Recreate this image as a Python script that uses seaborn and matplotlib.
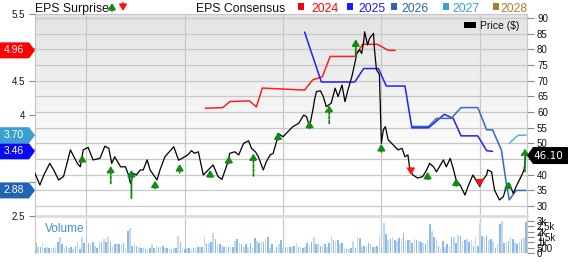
import numpy as np
import pandas as pd
import matplotlib
matplotlib.use("Agg")
import matplotlib.pyplot as plt
import seaborn as sns
from matplotlib.patches import Polygon, Rectangle, FancyArrowPatch
from matplotlib.transforms import IdentityTransform
from matplotlib.ticker import FuncFormatter

sns.set_theme(style="white")
plt.rcParams['font.family'] = ['Liberation Sans', 'DejaVu Sans']

# ---------------- data ----------------
price_t = [2021.48, 2021.53, 2021.57, 2021.63, 2021.67, 2021.72, 2021.77, 2021.84, 2021.91, 2021.94,
           2021.97, 2022.02, 2022.07, 2022.14, 2022.19, 2022.23, 2022.26, 2022.29, 2022.35, 2022.40,
           2022.43, 2022.45, 2022.48, 2022.51, 2022.55, 2022.58, 2022.62, 2022.65, 2022.72, 2022.75,
           2022.80, 2022.89, 2022.94, 2022.99, 2023.04, 2023.07, 2023.10, 2023.14, 2023.19, 2023.24,
           2023.29, 2023.34, 2023.38, 2023.43, 2023.46, 2023.51, 2023.55, 2023.60, 2023.65, 2023.68,
           2023.72, 2023.75, 2023.80, 2023.83, 2023.87, 2023.90, 2023.94, 2023.95, 2024.00, 2024.05,
           2024.10, 2024.16, 2024.21, 2024.24, 2024.27, 2024.31, 2024.32, 2024.34, 2024.38, 2024.41,
           2024.44, 2024.49, 2024.53, 2024.56, 2024.60, 2024.63, 2024.66, 2024.70, 2024.73, 2024.75,
           2024.78, 2024.80, 2024.82, 2024.83, 2024.86, 2024.88, 2024.92, 2024.93, 2024.95, 2024.98,
           2025.00, 2025.02, 2025.04, 2025.07, 2025.12, 2025.17, 2025.21, 2025.24, 2025.27, 2025.29,
           2025.32, 2025.37, 2025.42, 2025.46, 2025.49, 2025.53, 2025.56, 2025.59, 2025.63, 2025.66,
           2025.70, 2025.73, 2025.76, 2025.80, 2025.85, 2025.88, 2025.93, 2025.97, 2026.00, 2026.03,
           2026.07, 2026.08, 2026.12, 2026.15, 2026.20, 2026.24, 2026.27, 2026.30, 2026.34, 2026.37,
           2026.42, 2026.45, 2026.47, 2026.48]
price = [40.4, 36.7, 39.9, 43.6, 41.5, 38.3, 39.4, 47.9, 43.6, 42.5,
         47.9, 48.7, 44.7, 45.2, 49.1, 48.4, 43.6, 45.7, 42.5, 42.5,
         39.9, 37.2, 40.4, 39.9, 41.5, 41.5, 44.7, 41.5, 38.3, 41.5,
         45.7, 48.9, 44.6, 45.5, 46.5, 47.7, 46.8, 47.3, 39.9, 41.5,
         43.1, 39.4, 38.5, 43.1, 46.8, 47.3, 46.3, 50.0, 50.8, 48.4,
         47.3, 45.7, 41.5, 44.1, 46.3, 46.8, 51.1, 53.2, 52.1, 53.7,
         55.3, 56.4, 59.0, 58.5, 55.3, 61.7, 63.8, 66.5, 66.8, 64.9,
         61.7, 62.8, 67.6, 64.9, 68.6, 63.3, 67.0, 71.3, 75.5, 78.7,
         79.8, 78.7, 82.4, 85.6, 81.4, 83.5, 85.1, 80.0, 73.5, 72.0,
         50.0, 54.3, 55.3, 51.1, 49.5, 47.9, 48.4, 45.7, 46.3, 41.5,
         39.9, 38.9, 39.4, 41.5, 43.6, 42.5, 40.9, 42.5, 44.7, 42.5,
         45.2, 42.0, 38.3, 36.7, 33.5, 36.2, 39.9, 37.8, 36.2, 38.3,
         39.9, 41.5, 40.9, 35.1, 31.9, 33.0, 36.2, 37.2, 34.0, 36.2,
         39.4, 41.5, 46.8, 46.1]

cons_2024_t = [2023.21, 2023.39, 2023.46, 2023.66, 2023.73, 2023.79, 2024.22, 2024.30, 2024.40,
               2024.48, 2024.73, 2024.81, 2024.96, 2025.07, 2025.14]
cons_2024 = [4.10, 4.11, 4.20, 4.21, 4.12, 4.40, 4.37, 4.52, 4.57, 4.87, 4.87, 5.05, 5.05, 4.96, 4.96]

cons_2025_t = [2024.22, 2024.39, 2024.73, 2024.82, 2024.97, 2025.05, 2025.24, 2025.31, 2025.48,
               2025.64, 2025.73, 2025.81, 2025.98, 2026.07, 2026.13]
cons_2025 = [5.23, 4.49, 4.49, 4.69, 4.69, 4.43, 4.43, 3.81, 3.81, 4.01, 3.95, 3.69, 3.69, 3.47, 3.46]

cons_2026_t = [2025.31, 2025.48, 2025.56, 2025.71, 2025.81, 2025.98, 2026.07, 2026.13, 2026.22,
               2026.27, 2026.30, 2026.37, 2026.47]
cons_2026 = [3.83, 3.83, 3.95, 3.95, 4.11, 4.11, 3.78, 3.78, 3.48, 2.98, 2.74, 2.88, 2.88]

cons_2027_t = [2026.30, 2026.39, 2026.47]
cons_2027 = [3.58, 3.70, 3.70]

# EPS surprise arrows (date, start price, end price, dashed shaft)
surprise_t = [2021.96, 2022.25, 2022.46, 2022.70, 2022.95, 2023.26, 2023.45, 2023.70, 2023.95, 2024.27,
              2024.47, 2024.74, 2025.00, 2025.30, 2025.47, 2025.76, 2026.00, 2026.29, 2026.46]
surprise_from = [44.1, 37.2, 32.5, 35.6, 40.6, 39.2, 43.6, 39.6, 51.1, 54.8,
                 56.4, 77.6, 47.3, 42.0, 38.5, 36.4, 37.8, 35.6, 41.0]
surprise_to = [46.3, 42.8, 41.5, 38.1, 43.4, 41.5, 46.0, 46.8, 53.5, 57.2,
               62.2, 83.2, 49.8, 39.9, 40.9, 38.8, 36.2, 37.8, 48.4]
surprise_dashed = [False, True, False, False, False, False, False, True, False, False,
                   True, False, False, False, False, False, False, False, True]

vol_k1 = [0.9, 0.6, 0.6, 0.9, 0.5, 0.6, 0.5, 0.5, 0.5, 0.6,
          1.0, 1.5, 0.8, 0.5, 0.7, 0.5, 0.6, 0.4, 0.7, 1.0,
          0.4, 1.5, 0.9, 0.9, 0.9, 0.8, 1.0, 0.7, 0.5, 1.0,
          1.0, 1.3, 1.0, 1.5, 1.0, 0.7, 0.8, 0.8, 0.8, 0.8,
          0.9, 0.5, 2.1, 2.3, 0.7, 0.8, 0.7, 0.6, 0.5, 0.5,
          0.4, 0.4, 0.5, 0.8, 0.5, 0.7, 0.6, 0.6, 0.7, 0.5,
          0.5, 0.5, 0.4, 0.5, 0.5, 1.6, 1.0, 0.5, 0.4, 0.5,
          0.5, 0.4, 0.5, 0.5, 0.6]
vol_k2 = [0.6, 0.6, 1.5, 0.9, 0.9, 1.0, 1.9, 1.3, 0.8, 0.8,
          0.7, 0.6, 0.6, 0.6, 0.6, 0.6, 1.1, 1.3, 0.9, 0.8,
          0.6, 0.8, 0.6, 0.9, 0.5, 1.4, 1.1, 0.9, 1.1, 1.0,
          1.3, 1.5, 0.5, 0.8, 0.3, 0.6, 0.8, 1.2, 0.5, 0.6,
          0.6, 0.6, 0.6, 0.7, 0.9, 0.6, 0.6, 0.5, 0.6, 0.9,
          0.7, 1.0, 1.5, 0.8, 0.8, 0.7, 0.7, 0.8, 0.6, 0.9,
          1.6, 1.2, 1.1, 1.2, 0.8, 0.9, 0.5, 0.4, 0.4, 0.5,
          1.1, 0.5, 1.5, 1.4, 0.6]
vol_k3 = [0.7, 0.7, 0.9, 0.8, 0.6, 0.6, 0.7, 1.6, 0.5, 2.8,
          1.8, 1.2, 1.3, 1.5, 1.2, 1.1, 1.4, 1.3, 1.9, 1.1,
          1.2, 1.2, 0.9, 1.3, 1.2, 1.1, 1.0, 0.9, 0.8, 1.2,
          2.7, 2.1, 1.5, 1.3, 0.7, 0.4, 1.1, 0.6, 0.8, 0.6,
          1.5, 1.5, 0.9, 1.7, 1.6, 1.1, 1.2, 1.3, 1.0, 1.2,
          0.7, 1.5, 0.7, 2.8, 1.6, 1.5, 1.7, 1.2, 1.3, 1.1,
          0.5, 0.8, 2.7, 3.0, 0.9, 1.0, 1.1, 1.5, 1.3, 0.9,
          0.8, 1.0, 1.3, 1.4, 2.9]
vol_start, vol_end = 2021.49, 2026.47

years = [2022, 2023, 2024, 2025, 2026]
x_range = (2021.48, 2026.48)
legend_years = ['2024', '2025', '2026', '2027', '2028']
legend_colors = ['#ff0000', '#1a1aff', '#2b66b8', '#3a9fd2', '#b07c30']
line_colors = {'2024': '#ff2020', '2025': '#2020ff', '2026': '#2f6ec0', '2027': '#5ab2e2'}
badge_colors = {'2024': '#ff0000', '2025': '#0a0af0', '2026': '#2263b5', '2027': '#3aa0d2'}
price_ticks = list(range(30, 91, 5))
eps_ticks = [2.5, 3, 3.5, 4, 4.5, 5, 5.5]
vol_ticks = [0, 500, 1000, 1500, 2000, 2500, 3000]
vol_labels = ['0', '500', '1k', '1.5k', '2k', '2.5k', '3k']
last_price = 46.10

# ---------------- figure ----------------
W, H = 568, 264
fig = plt.figure(figsize=(W / 100, H / 100), dpi=100)


def frac(x0, y0, x1, y1):
    return [x0 / W, 1 - y1 / H, (x1 - x0) / W, (y1 - y0) / H]


axp = fig.add_axes(frac(35, 14, 527, 216))            # price scale, grid, background
axe = fig.add_axes(frac(35, 14, 527, 216))            # EPS consensus
axl = fig.add_axes(frac(35, 14, 527, 216))            # price line + surprises
axv = fig.add_axes(frac(35, 218, 527, 253))           # volume

grey = '#c8c8c8'
tickc = '#8a8a8a'
idt = IdentityTransform()

# background gradient
g = np.clip(0.89 + 0.11 * (1 - np.linspace(1, 0, 200)) / 0.75, 0, 1)[:, None]
axp.imshow(np.dstack([g, g, g]), extent=[0, 1, 0, 1], transform=axp.transAxes,
           aspect='auto', zorder=0, origin='upper')
axp.set_xlim(*x_range)
axp.set_ylim(26.8, 91.28)
axp.yaxis.tick_right()
axp.set_yticks(price_ticks)
axp.set_xticks(years)
axp.set_axisbelow(True)
axp.grid(True, color=grey, lw=0.9)

last_px = axp.transData.transform((x_range[1], last_price))[1]


def price_label(v, p):
    ypx = axp.transData.transform((x_range[1], v))[1]
    return '' if abs(ypx - last_px) < 9 else f"{v:g}"


axp.yaxis.set_major_formatter(FuncFormatter(price_label))
axp.tick_params(axis='y', right=True, length=4.8, width=0.8, color=tickc, pad=2.4,
                labelsize=7, labelcolor='#111111')
axp.tick_params(axis='x', bottom=False, labelbottom=False)
for s in ['left', 'right', 'top']:
    axp.spines[s].set_color(grey)
    axp.spines[s].set_linewidth(0.9)
axp.spines['bottom'].set_color('#dddddd')
axp.spines['bottom'].set_linewidth(2)

# EPS consensus axis
axe.patch.set_visible(False)
axe.set_xlim(*x_range)
axe.set_ylim(2.5, 5.5)
axe.set_yticks(eps_ticks)
badge_vals = [cons_2024[-1], cons_2027[-1], cons_2025[-1], cons_2026[-1]]
badge_px = [axe.transData.transform((x_range[0], v))[1] for v in badge_vals]


def eps_label(v, p):
    ypx = axe.transData.transform((x_range[0], v))[1]
    if any(abs(ypx - b) < 9 for b in badge_px):
        return ''
    return f"{v:g}"


axe.yaxis.set_major_formatter(FuncFormatter(eps_label))
axe.tick_params(axis='y', left=True, length=4.1, width=0.8, color=tickc, pad=3.1,
                labelsize=7, labelcolor='#111111')
axe.tick_params(axis='x', bottom=False, labelbottom=False)
for s in axe.spines.values():
    s.set_visible(False)
for yr, tt, vv in [('2024', cons_2024_t, cons_2024), ('2025', cons_2025_t, cons_2025),
                   ('2026', cons_2026_t, cons_2026), ('2027', cons_2027_t, cons_2027)]:
    sns.lineplot(x=tt, y=vv, ax=axe, color=line_colors[yr], lw=1.1, estimator=None, sort=False)
axe.set_xlabel('')
axe.set_ylabel('')

# price line and surprises
axl.set_xlim(*x_range)
axl.set_ylim(26.8, 91.28)
sns.lineplot(x=price_t, y=price, ax=axl, color='black', lw=0.9, estimator=None, sort=False)
axl.set_axis_off()
arrow_style = '-|>,head_length=0.36,head_width=0.22'
for t, a, b, d in zip(surprise_t, surprise_from, surprise_to, surprise_dashed):
    c = '#138a13' if b > a else '#ff1010'
    axl.annotate('', xy=(t, b), xytext=(t, a),
                 arrowprops=dict(arrowstyle=arrow_style, color=c, lw=1.3, mutation_scale=10,
                                 linestyle=(0, (1.4, 1.0)) if d else '-',
                                 shrinkA=0, shrinkB=0), annotation_clip=False, zorder=5)

# volume
vol = np.array(vol_k1 + vol_k2 + vol_k3) * 1000
vol_t = np.linspace(vol_start, vol_end, len(vol))
cols = ['#8dbbe6' if i % 2 == 0 else '#c0d8f0' for i in range(len(vol))]
axv.bar(vol_t, vol, width=0.016, color=cols, linewidth=0)
axv.set_xlim(*x_range)
axv.set_ylim(0, 3280)
axv.yaxis.tick_right()
axv.set_yticks(vol_ticks)
axv.set_yticklabels(vol_labels)
axv.set_xticks(years)
axv.set_xticklabels([str(y) for y in years])
axv.grid(True, axis='x', color=grey, lw=0.9)
axv.set_axisbelow(True)
axv.tick_params(axis='y', right=True, length=4.8, width=0.8, color=tickc, pad=2.4,
                labelsize=7, labelcolor='#111111')
for lab in axv.get_yticklabels():
    lab.set_horizontalalignment('left')
axv.tick_params(axis='x', bottom=False, labelsize=8.5, pad=3, labelcolor='#111111')
for s in ['top', 'bottom']:
    axv.spines[s].set_visible(False)
for s in ['left', 'right']:
    axv.spines[s].set_color(grey)
    axv.spines[s].set_linewidth(0.9)
fig.text(45 / W, 1 - 232 / H, 'Volume', fontsize=8.5, color='#3d8fd6', va='baseline')

# ---------------- badges ----------------
for yr, vv in [('2024', cons_2024), ('2027', cons_2027), ('2025', cons_2025), ('2026', cons_2026)]:
    yc = axe.transData.transform((x_range[0], vv[-1]))[1]
    poly = Polygon([(0, yc - 8), (29, yc - 8), (35, yc), (29, yc + 8), (0, yc + 8)],
                   closed=True, facecolor=badge_colors[yr], edgecolor='none', transform=idt, zorder=10)
    fig.add_artist(poly)
    fig.text(14, yc, f"{vv[-1]:.2f}", transform=idt, color='white', fontsize=7.5,
             ha='center', va='center', zorder=11)

yc = last_px
fig.add_artist(Polygon([(527, yc), (533, yc - 8.5), (568, yc - 8.5), (568, yc + 8.5), (533, yc + 8.5)],
                       closed=True, facecolor='black', edgecolor='none', transform=idt, zorder=10))
fig.text(548, yc, f"{last_price:.2f}", transform=idt, color='white', fontsize=7.5,
         ha='center', va='center', zorder=11, family='DejaVu Sans')

# ---------------- legends ----------------
ytop = H - 12
fig.text(35, ytop, 'EPS Surprise', transform=idt, fontsize=8.8, color='#111111', va='baseline')
fig.add_artist(FancyArrowPatch((112, ytop + 1), (112, H - 3), transform=idt,
               arrowstyle=arrow_style, mutation_scale=10,
               color='#138a13', lw=1.3, shrinkA=0, shrinkB=0))
fig.add_artist(FancyArrowPatch((123, H - 3), (123, ytop + 1), transform=idt,
               arrowstyle=arrow_style, mutation_scale=10,
               color='#ff1010', lw=1.3, shrinkA=0, shrinkB=0))
fig.text(196, ytop, 'EPS Consensus', transform=idt, fontsize=8.8, color='#111111', va='baseline')
sq_x = [298, 347, 391, 443, 493]
tx_x = [311, 358, 401, 452, 500]
for sx, tx, lab, col in zip(sq_x, tx_x, legend_years, legend_colors):
    fig.add_artist(Rectangle((sx, H - 10), 6, 7, facecolor=col, edgecolor='none', transform=idt))
    fig.text(tx, ytop, lab, transform=idt, fontsize=8.8, color=col, va='baseline')

fig.add_artist(Rectangle((464, H - 28), 12, 6, facecolor='black', edgecolor='none', transform=idt))
fig.text(480, H - 29, 'Price ($)', transform=idt, fontsize=7.5, color='#111111', va='baseline')

fig.savefig('out.png', dpi=100)
